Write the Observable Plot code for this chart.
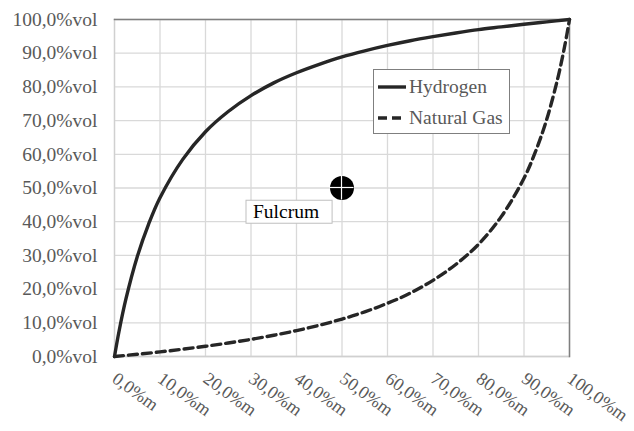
<!DOCTYPE html>
<html>
<head>
<meta charset="utf-8">
<script src="https://cdn.jsdelivr.net/npm/d3@7"></script>
<script src="https://cdn.jsdelivr.net/npm/@observablehq/plot@0.6"></script>
<style>
  html, body { margin: 0; padding: 0; background: #fff; }
  #wrap { position: relative; width: 634px; height: 431px; font-family: "Liberation Serif", "Times New Roman", serif; }
  #legend { position: absolute; left: 373px; top: 69px; width: 135px; height: 63px; border: 1px solid #7f7f7f; background: #fff; color: #595959; font-size: 19.5px; }
  #legend .row { position: absolute; left: 4px; height: 22px; display: flex; align-items: center; }
  #legend svg { margin-right: 3px; }
</style>
</head>
<body>
<div id="wrap"></div>
<script>
// x: hydrogen / natural gas mass fraction (%m), y: volume fraction (%vol)
const xTicks = [0, 10, 20, 30, 40, 50, 60, 70, 80, 90, 100];
const yTicks = [0, 10, 20, 30, 40, 50, 60, 70, 80, 90, 100];

const hydrogenMass = [0, 1, 2.5, 5, 7.5, 10, 15, 20, 25, 30, 35, 40, 45, 50, 55, 60, 65, 70, 75, 80, 85, 90, 95, 100];
const hydrogenVol  = [0, 7.5, 17, 29.6, 39.3, 47.1, 58.5, 66.7, 72.7, 77.4, 81.2, 84.2, 86.7, 88.9, 90.7, 92.3, 93.7, 94.9, 96.0, 97.0, 97.8, 98.6, 99.3, 100];

const gasMass = [0, 5, 10, 15, 20, 25, 30, 35, 40, 45, 50, 55, 60, 65, 70, 75, 80, 85, 90, 92.5, 95, 97.5, 99, 100];
const gasVol  = [0, 0.65, 1.37, 2.16, 3.03, 4.0, 5.08, 6.31, 7.69, 9.28, 11.1, 13.25, 15.8, 18.8, 22.6, 27.3, 33.3, 41.5, 52.9, 60.7, 70.4, 83.0, 92.5, 100];

const fulcrumX = [50];
const fulcrumY = [50];
const fulcrumLabel = ["Fulcrum"];

const seriesNames = ["Hydrogen", "Natural Gas"];

const hydrogen = hydrogenMass.map((x, i) => ({x, y: hydrogenVol[i]}));
const gas = gasMass.map((x, i) => ({x, y: gasVol[i]}));
const fulcrum = fulcrumX.map((x, i) => ({x, y: fulcrumY[i], label: fulcrumLabel[i]}));

const fmt = (v) => v.toFixed(1).replace(".", ",");

const plot = Plot.plot({
  width: 634,
  height: 431,
  marginLeft: 114,
  marginRight: 65,
  marginTop: 19,
  marginBottom: 75,
  style: {fontFamily: "'Liberation Serif', 'Times New Roman', serif", fontSize: "19px", color: "#595959", background: "#fff"},
  x: {type: "linear", domain: [0, 100]},
  y: {type: "linear", domain: [0, 100]},
  marks: [
    Plot.gridX(xTicks, {stroke: "#d9d9d9", strokeOpacity: 1, strokeWidth: 1.3}),
    Plot.gridY(yTicks, {stroke: "#d9d9d9", strokeOpacity: 1, strokeWidth: 1.3}),
    Plot.frame({anchor: "left", stroke: "#d0d0d0", strokeWidth: 1.3}),
    Plot.frame({anchor: "bottom", stroke: "#d0d0d0", strokeWidth: 1.3}),
    Plot.frame({anchor: "top", stroke: "#7f7f7f", strokeWidth: 1.5}),
    Plot.frame({anchor: "right", stroke: "#7f7f7f", strokeWidth: 1.5}),
    Plot.axisY(yTicks, {tickSize: 0, tickPadding: 17, tickFormat: (d) => fmt(d) + "%vol", fill: "#595959", fontSize: 19.5, label: null}),
    Plot.axisX(xTicks, {tickSize: 0, tickPadding: 20, tickRotate: 36, tickFormat: (d) => fmt(d) + "%m", fill: "#595959", fontSize: 18, label: null}),
    Plot.line(gas, {x: "x", y: "y", stroke: "#262626", strokeWidth: 3.4, strokeDasharray: "9,5", curve: "catmull-rom"}),
    Plot.line(hydrogen, {x: "x", y: "y", stroke: "#262626", strokeWidth: 3.4, curve: "catmull-rom"}),
    Plot.dot(fulcrum, {x: "x", y: "y", r: 12, fill: "#000", stroke: "none"}),
    Plot.text(fulcrum, {x: "x", y: "y", text: "label", dx: -89, dy: 24, textAnchor: "start", fill: "#000", fontSize: 19.5})
  ]
});

document.getElementById("wrap").appendChild(plot);

const svg = d3.select(plot);
const xs = plot.scale("x");
const ys = plot.scale("y");

// white cross through the fulcrum marker
fulcrum.forEach(f => {
  const cx = xs.apply(f.x), cy = ys.apply(f.y);
  const g = svg.append("g");
  g.append("line").attr("x1", cx - 12).attr("x2", cx + 12).attr("y1", cy).attr("y2", cy).attr("stroke", "#fff").attr("stroke-width", 1.2);
  g.append("line").attr("x1", cx).attr("x2", cx).attr("y1", cy - 12).attr("y2", cy + 12).attr("stroke", "#fff").attr("stroke-width", 1.2);
});

// box around the Fulcrum label
Array.from(plot.querySelectorAll("text")).filter(t => fulcrumLabel.includes(t.textContent)).forEach(lbl => {
  const bb = lbl.getBBox();
  const parent = lbl.parentNode;
  const rect = document.createElementNS("http://www.w3.org/2000/svg", "rect");
  rect.setAttribute("x", bb.x - 7);
  rect.setAttribute("y", bb.y - 1);
  rect.setAttribute("width", bb.width + 20);
  rect.setAttribute("height", bb.height + 2);
  rect.setAttribute("fill", "#fff");
  rect.setAttribute("stroke", "#bfbfbf");
  rect.setAttribute("stroke-width", 1);
  const tr = lbl.getAttribute("transform");
  if (tr) rect.setAttribute("transform", tr);
  parent.insertBefore(rect, lbl);
});

// legend
const legend = document.createElement("div");
legend.id = "legend";
seriesNames.forEach((name, i) => {
  const row = document.createElement("div");
  row.className = "row";
  row.style.top = (6 + i * 31) + "px";
  row.innerHTML = `<svg width="28" height="8"><line x1="0" x2="28" y1="4" y2="4" stroke="#262626" stroke-width="3.4" ${i === 1 ? 'stroke-dasharray="9,5"' : ''}/></svg><span>${name}</span>`;
  legend.appendChild(row);
});
document.getElementById("wrap").appendChild(legend);
</script>
</body>
</html>
